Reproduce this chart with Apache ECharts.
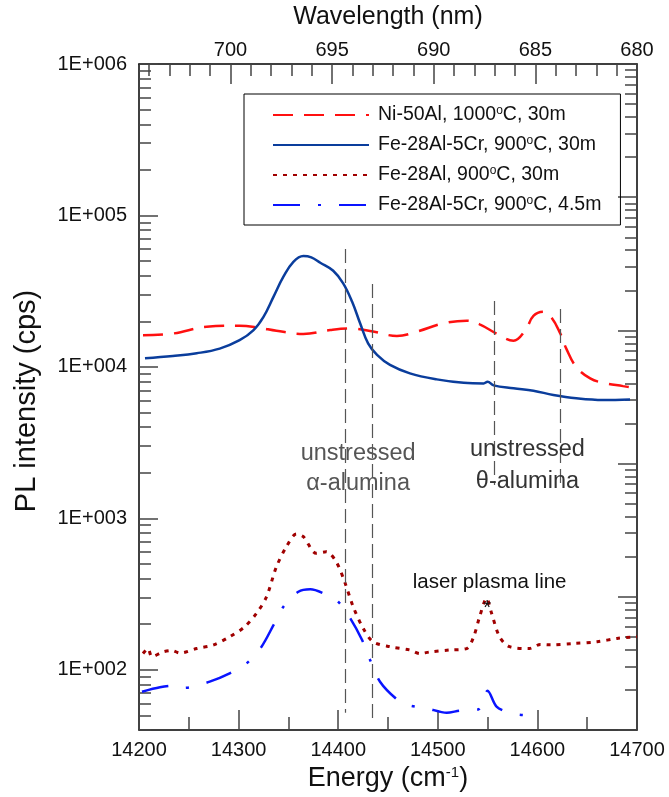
<!DOCTYPE html>
<html>
<head>
<meta charset="utf-8">
<script src="https://cdn.jsdelivr.net/npm/echarts@6/dist/echarts.min.js"></script>
<style>
  html, body { margin: 0; padding: 0; background: #fff; }
  #chart { width: 669px; height: 797px; }
</style>
</head>
<body>
<div id="chart"></div>
<script>
// energy (cm-1) / intensity (cps) pairs
var niAl1000 = [
  [14204, 16200], [14234, 16600], [14268, 18400], [14301, 18700], [14321, 18100],
  [14338, 17300], [14365, 16500], [14392, 17500], [14412, 17900], [14435, 17100],
  [14459, 16000], [14479, 17100], [14506, 19400], [14529, 20200], [14542, 19100],
  [14559, 16600], [14576, 14900], [14588, 17500], [14596, 21700], [14606, 23100],
  [14614, 21200], [14623, 16600], [14629, 13200], [14639, 10000], [14653, 8390],
  [14666, 7850], [14686, 7460], [14700, 7210]
];
var feAlCr30 = [
  [14206, 11400], [14234, 11800], [14258, 12300], [14281, 13200], [14301, 15000],
  [14315, 17500], [14325, 21400], [14335, 29000], [14345, 39400], [14355, 49400],
  [14365, 53900], [14373, 52800], [14382, 48700], [14395, 43100], [14405, 35600],
  [14414, 26900], [14422, 19400], [14430, 14300], [14439, 12000], [14452, 10300],
  [14472, 9060], [14499, 8270], [14526, 7850], [14546, 7780], [14550, 7980],
  [14556, 7550], [14576, 7220], [14596, 6960], [14616, 6520], [14639, 6200],
  [14666, 6040], [14693, 6100]
];
var feAl30 = [
  [14204, 128], [14209, 138], [14213, 122], [14224, 131], [14233, 134], [14241, 129],
  [14258, 138], [14275, 146], [14291, 165], [14306, 192], [14318, 236], [14328, 303],
  [14338, 479], [14348, 649], [14358, 787], [14365, 756], [14378, 587], [14388, 601],
  [14398, 516], [14407, 372], [14415, 261], [14425, 188], [14435, 153], [14452, 142],
  [14472, 135], [14482, 128], [14492, 131], [14512, 135], [14529, 138], [14536, 165],
  [14542, 224], [14549, 296], [14554, 236], [14562, 165], [14572, 142], [14592, 138],
  [14603, 147], [14613, 146], [14636, 149], [14660, 153], [14680, 161], [14700, 165]
];
var feAlCr45 = [
  [14203, 71.6], [14221, 76.6], [14238, 78.9], [14245, 76], [14251, 76.6], [14271, 83.4],
  [14291, 94.7], [14308, 110], [14323, 142], [14335, 197], [14345, 261], [14360, 327],
  [14372, 340], [14385, 320], [14400, 281], [14412, 219], [14424, 157], [14432, 116],
  [14442, 83.4], [14459, 63.7], [14470, 58.5], [14489, 55.6], [14509, 52.0],
  [14522, 53.7], [14541, 54.8], [14550, 72.7], [14559, 57.1], [14572, 52.0],
  [14589, 50.2], [14601, 52.8]
];
var seriesNames = ['Ni-50Al, 1000oC, 30m', 'Fe-28Al-5Cr, 900oC, 30m', 'Fe-28Al, 900oC, 30m', 'Fe-28Al-5Cr, 900oC, 4.5m'];
var energyTicks = [14200, 14300, 14400, 14500, 14600, 14700];
var wavelengthTicks = [680, 685, 690, 695, 700];
var wavelengthMinor = [681, 682, 683, 684, 686, 687, 688, 689, 691, 692, 693, 694, 696, 697, 698, 699, 701, 702, 703, 704];
var decadeTicks = [100, 1000, 10000, 100000, 1000000];
// unstressed R-line markers: [energy, top, bottom]
var alphaLines = [[14407, 60000, 52], [14434, 35200, 48]];
var thetaLines = [[14557, 27200, 1660], [14623, 24100, 1585]];

function minorLog(lo, hi) {
  var out = [];
  for (var d = 1; d <= 1e6; d *= 10) {
    for (var k = 2; k <= 9; k++) {
      var v = k * d;
      if (v >= lo && v <= hi) out.push(v);
    }
  }
  return out;
}
function majorLog(lo, hi) {
  var out = [];
  for (var d = 1; d <= 1e6; d *= 10) if (d >= lo && d <= hi) out.push(d);
  return out;
}

var font = 'Liberation Sans, Arial, sans-serif';
var tickColor = '#444';

var myChart = echarts.init(document.getElementById('chart'));

function vline(list) {
  return list.map(function (l) {
    return [{ coord: [l[0], l[1]] }, { coord: [l[0], l[2]] }];
  });
}
// text annotations pinned to data coordinates
function note(x, y, text, size, color, extra) {
  var label = { show: true, position: 'inside', formatter: text, fontFamily: font, fontSize: size, color: color };
  for (var k in extra) label[k] = extra[k];
  return { coord: [x, y], label: label };
}

var option = {
  animation: false,
  grid: { left: 139, right: 32, top: 64, bottom: 67 },
  legend: {
    orient: 'vertical',
    left: 244,
    top: 94,
    padding: [11, 19, 10, 28],
    itemGap: 10,
    itemWidth: 96,
    itemHeight: 20,
    borderColor: '#000',
    borderWidth: 1,
    itemStyle: { opacity: 0 },
    data: seriesNames,
    formatter: function (name) {
      var parts = name.split('oC');
      return '{f|' + parts[0] + '}{sup|o}{t|C' + parts[1] + '}';
    },
    textStyle: {
      fontFamily: font,
      fontSize: 19.5,
      color: '#111',
      rich: {
        f: { fontFamily: font, fontSize: 19.5, color: '#111', lineHeight: 20, padding: [0, 0, 0, 4] },
        t: { fontFamily: font, fontSize: 19.5, color: '#111', lineHeight: 20 },
        sup: { fontFamily: font, fontSize: 12, color: '#111', verticalAlign: 'top', lineHeight: 14 }
      }
    }
  },
  xAxis: [
    {
      type: 'value', position: 'bottom', min: 14200, max: 14700, interval: 100,
      axisLine: { lineStyle: { color: '#000', width: 1.5 } },
      axisTick: { inside: true, length: 20, lineStyle: { color: tickColor, width: 1.5 } },
      minorTick: { show: true, splitNumber: 2, length: 13, lineStyle: { color: tickColor, width: 1.5 } },
      splitLine: { show: false },
      axisLabel: {
        margin: 10, fontFamily: font, fontSize: 20, color: '#111', customValues: energyTicks,
        formatter: function (v) { return String(v); }
      },
      name: 'Energy (cm{sup|-1})',
      nameLocation: 'middle',
      nameGap: 32,
      nameTextStyle: {
        fontFamily: font, fontSize: 27, color: '#111',
        rich: { sup: { fontFamily: font, fontSize: 15, color: '#111', verticalAlign: 'top', lineHeight: 15 } }
      }
    },
    {
      type: 'value', position: 'top', min: 680, max: 704.5, inverse: true,
      axisLine: { lineStyle: { color: '#000', width: 1.5 } },
      axisTick: { inside: true, length: 20, customValues: wavelengthTicks, lineStyle: { color: tickColor, width: 1.5 } },
      splitLine: { show: false },
      axisLabel: { margin: 4, fontFamily: font, fontSize: 20, color: '#111', customValues: wavelengthTicks },
      name: 'Wavelength (nm)',
      nameLocation: 'middle',
      nameGap: 34,
      nameTextStyle: { fontFamily: font, fontSize: 25, color: '#111' }
    },
    {
      type: 'value', position: 'top', min: 680, max: 704.5, inverse: true,
      axisLine: { show: false },
      axisTick: { inside: true, length: 12, customValues: wavelengthMinor, lineStyle: { color: tickColor, width: 1.5 } },
      splitLine: { show: false },
      axisLabel: { show: false }
    }
  ],
  yAxis: [
    {
      type: 'log', logBase: 10, position: 'left', min: 40, max: 1e6,
      axisLine: { show: true, lineStyle: { color: '#000', width: 1.5 } },
      axisTick: { inside: true, length: 19, customValues: decadeTicks, lineStyle: { color: tickColor, width: 1.5 } },
      splitLine: { show: false },
      axisLabel: {
        margin: 12, fontFamily: font, fontSize: 20, color: '#111', customValues: decadeTicks,
        formatter: function (v) {
          return '1E+' + String(Math.round(Math.log10(v))).padStart(3, '0');
        }
      },
      name: 'PL intensity (cps)',
      nameLocation: 'middle',
      nameGap: 98,
      nameTextStyle: { fontFamily: font, fontSize: 29, color: '#111', padding: [0, 8, 0, 0] }
    },
    {
      type: 'log', logBase: 10, position: 'left', min: 40, max: 1e6,
      axisLine: { show: false },
      axisTick: { inside: true, length: 12, customValues: minorLog(40, 1e6), lineStyle: { color: tickColor, width: 1.5 } },
      splitLine: { show: false },
      axisLabel: { show: false }
    },
    {
      type: 'log', logBase: 10, position: 'right', min: 10, max: 1e6,
      axisLine: { show: true, lineStyle: { color: '#000', width: 1.5 } },
      axisTick: { inside: true, length: 19, customValues: majorLog(10, 1e6), lineStyle: { color: tickColor, width: 1.5 } },
      splitLine: { show: false },
      axisLabel: { show: false }
    },
    {
      type: 'log', logBase: 10, position: 'right', min: 10, max: 1e6,
      axisLine: { show: false },
      axisTick: { inside: true, length: 12, customValues: minorLog(10, 1e6), lineStyle: { color: tickColor, width: 1.5 } },
      splitLine: { show: false },
      axisLabel: { show: false }
    }
  ],
  series: [
    {
      name: seriesNames[0], type: 'line', data: niAl1000, symbol: 'none', smooth: 0.4,
      itemStyle: { color: '#ff1010' },
      lineStyle: { color: '#ff1010', width: 2.5, type: [20, 11] }
    },
    {
      name: seriesNames[1], type: 'line', data: feAlCr30, symbol: 'none', smooth: 0.4,
      itemStyle: { color: '#0a3d9c' },
      lineStyle: { color: '#0a3d9c', width: 2.5 },
      markLine: {
        silent: true, symbol: 'none', label: { show: false },
        lineStyle: { color: '#555', width: 1.2, type: [14, 6] },
        data: vline(alphaLines).concat(vline(thetaLines))
      }
    },
    {
      name: seriesNames[2], type: 'line', data: feAl30, symbol: 'none', smooth: 0.3,
      itemStyle: { color: '#a00000' },
      lineStyle: { color: '#a00000', width: 3, type: [4, 6] },
      markPoint: {
        silent: true, symbol: 'circle', symbolSize: 1,
        itemStyle: { color: 'rgba(0,0,0,0)' },
        data: [
          note(14549.5, 272, '*', 20, '#111', { offset: [0, 5] }),
          note(14552, 379, 'laser plasma line', 20.5, '#111')
        ]
      }
    },
    {
      name: seriesNames[3], type: 'line', data: feAlCr45, symbol: 'none', smooth: 0.3,
      itemStyle: { color: '#0a14ff' },
      lineStyle: { color: '#0a14ff', width: 2.5, type: [27, 18, 3, 18] },
      markPoint: {
        silent: true, symbol: 'circle', symbolSize: 1,
        itemStyle: { color: 'rgba(0,0,0,0)' },
        data: [
          note(14420, 2150, 'unstressed\n\u03b1-alumina', 23.5, '#555', { lineHeight: 30, offset: [0, 1] }),
          note(14590, 2230, 'unstressed\n\u03b8-alumina', 23.5, '#333', { lineHeight: 32 })
        ]
      }
    }
  ]
};

myChart.setOption(option);
window.addEventListener('resize', myChart.resize);
</script>
</body>
</html>
